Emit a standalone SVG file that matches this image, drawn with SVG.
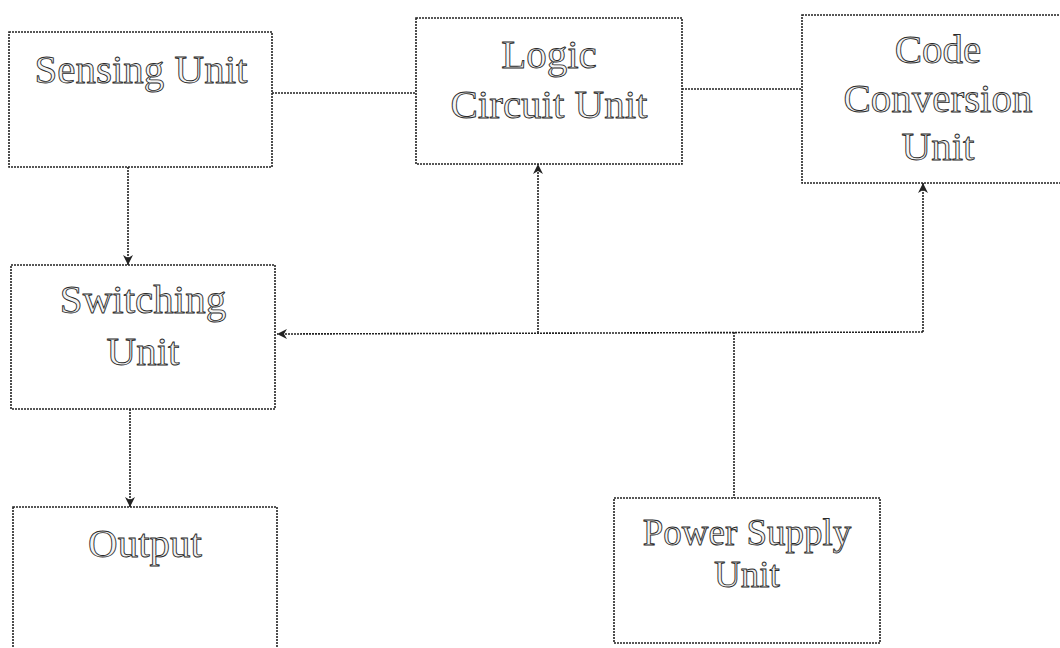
<svg xmlns="http://www.w3.org/2000/svg" width="1060" height="648" viewBox="0 0 1060 648">
<style>
.box{fill:#fff;stroke:#222;stroke-width:1.6;stroke-dasharray:2 1}
.ln{fill:none;stroke:#222;stroke-width:1.6;stroke-dasharray:2 1}
.t{font-family:"Liberation Serif","Times New Roman",serif;font-size:41px;text-anchor:middle;fill:#f4f4f4;stroke:#2a2a2a;stroke-width:0.9}
.s{font-size:37px}
</style>
<defs>
<marker id="ah" viewBox="0 0 10 10" refX="10" refY="5" markerWidth="10" markerHeight="10" markerUnits="userSpaceOnUse" orient="auto">
<path d="M0,0 L10,5 L0,10 L3,5 Z" fill="#222"/>
</marker>
</defs>
<rect width="1060" height="648" fill="#fff"/>
<g id="connectors">
<line class="ln" x1="272" y1="93" x2="416" y2="93"/>
<line class="ln" x1="682" y1="89" x2="802" y2="89"/>
<line class="ln" x1="128" y1="167" x2="128" y2="265" marker-end="url(#ah)"/>
<line class="ln" x1="130" y1="409" x2="130" y2="507" marker-end="url(#ah)"/>
<polyline class="ln" points="923,332 277,334" marker-end="url(#ah)"/>
<line class="ln" x1="538" y1="333" x2="538" y2="164" marker-end="url(#ah)"/>
<line class="ln" x1="923" y1="332" x2="923" y2="183" marker-end="url(#ah)"/>
<line class="ln" x1="734" y1="332" x2="734" y2="498"/>
</g>
<g id="sensing">
<rect class="box" x="9" y="32" width="263" height="135"/>
<text class="t" x="141" y="83">Sensing Unit</text>
</g>
<g id="logic">
<rect class="box" x="416" y="18" width="266" height="146"/>
<text class="t" x="549" y="68">Logic</text>
<text class="t" x="549" y="118">Circuit Unit</text>
</g>
<g id="code">
<rect class="box" x="802" y="15" width="272" height="168"/>
<text class="t" x="938" y="63">Code</text>
<text class="t" x="938" y="112">Conversion</text>
<text class="t" x="938" y="160">Unit</text>
</g>
<g id="switching">
<rect class="box" x="11" y="265" width="264" height="144"/>
<text class="t" x="143" y="313">Switching</text>
<text class="t" x="143" y="365">Unit</text>
</g>
<g id="output">
<rect class="box" x="13" y="507" width="264" height="160"/>
<text class="t" x="145" y="557">Output</text>
</g>
<g id="power">
<rect class="box" x="614" y="498" width="266" height="145"/>
<text class="t s" x="747" y="545">Power Supply</text>
<text class="t s" x="747" y="587">Unit</text>
</g>
</svg>
